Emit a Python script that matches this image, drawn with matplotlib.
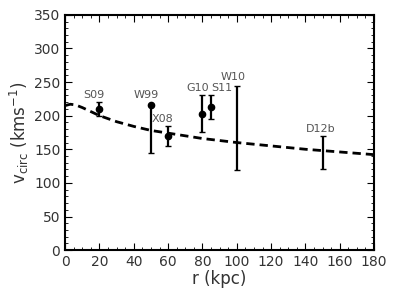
import numpy as np
import matplotlib
matplotlib.use("Agg")
import matplotlib.pyplot as plt
from matplotlib.ticker import MultipleLocator

# halo model curve (dashed)
model_r = [0, 3, 6, 10, 15, 20, 30, 40, 50, 60, 70, 80, 90, 100, 120, 140, 160, 180]
model_v = [215, 217, 216, 212, 206, 200, 191, 184, 178, 174, 170, 166, 163, 160, 155, 150, 146, 142]

# measurements with markers
pt_names = ["S09", "W99", "X08", "G10", "S11"]
pt_r = [20, 50, 60, 80, 85]
pt_v = [210, 216, 170, 203, 213]
pt_lo = [10, 71, 15, 27, 18]
pt_hi = [10, 0, 15, 27, 18]

# range-only measurements (no marker)
rng_names = ["W10", "D12b"]
rng_r = [100, 150]
rng_min = [119, 120]
rng_max = [244, 170]

fig, ax = plt.subplots(figsize=(3.95, 2.96), dpi=100)
fig.subplots_adjust(left=0.165, right=0.947, top=0.95, bottom=0.155)

ax.plot(model_r, model_v, "k--", lw=2, dashes=(3, 1.8))

ax.errorbar(pt_r, pt_v, yerr=[pt_lo, pt_hi], fmt="o", color="k", ms=4.5,
            elinewidth=1.6, capsize=2, capthick=1)
mid = [(a + b) / 2 for a, b in zip(rng_min, rng_max)]
half = [(b - a) / 2 for a, b in zip(rng_min, rng_max)]
ax.errorbar(rng_r, mid, yerr=half, fmt="none", ecolor="k",
            elinewidth=1.6, capsize=2, capthick=1)

# label placement
txt_dx = [-3, -3, -3, -3, 6]
txt_dy = [3, 7, 2, 4, 3]
for n, r, v, h, dx, dy in zip(pt_names, pt_r, pt_v, pt_hi, txt_dx, txt_dy):
    ax.text(r + dx, v + h + dy, n, ha="center", va="bottom", fontsize=8, color="#555555")
for n, r, top, dx, dy in zip(rng_names, rng_r, rng_max, [-2, -1], [6, 3]):
    ax.text(r + dx, top + dy, n, ha="center", va="bottom", fontsize=8, color="#555555")

ax.set_xlim(0, 180)
ax.set_ylim(0, 350)
ax.xaxis.set_major_locator(MultipleLocator(20))
ax.xaxis.set_minor_locator(MultipleLocator(5))
ax.yaxis.set_major_locator(MultipleLocator(50))
ax.yaxis.set_minor_locator(MultipleLocator(10))
ax.tick_params(which="both", direction="in", top=True, right=True,
               labelsize=10, labelcolor="#333333")
ax.tick_params(which="major", length=5, width=0.8)
ax.tick_params(which="minor", length=2.5, width=0.6)
for s in ax.spines.values():
    s.set_linewidth(1.5)

ax.set_xlabel("r (kpc)", fontsize=12, color="#333333", labelpad=1)
ax.set_ylabel(r"v$_{\rm circ}$ (kms$^{-1}$)", fontsize=12, color="#333333", labelpad=2)

fig.savefig("out.png", dpi=100)
